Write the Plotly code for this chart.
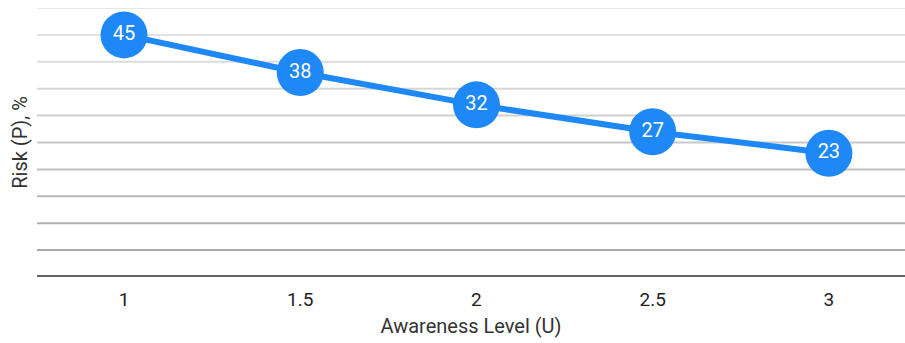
import plotly.graph_objects as go

# Awareness level (U) vs. risk (P, %)
awareness = [1, 1.5, 2, 2.5, 3]
risk = [45, 38, 32, 27, 23]
x_ticks = [1, 1.5, 2, 2.5, 3]
x_tick_labels = ["1", "1.5", "2", "2.5", "3"]
grid_values = [5, 10, 15, 20, 25, 30, 35, 40, 45, 50]

BLUE = "#1e88f7"
FONT = "Roboto, Arial, sans-serif"

# grid lines fade from light (top) to darker gray (bottom)
grid_colors = {
    50: "#e6e6e6", 45: "#e2e2e2", 40: "#dddddd", 35: "#d7d7d7", 30: "#d0d0d0",
    25: "#c8c8c8", 20: "#c0c0c0", 15: "#b8b8b8", 10: "#b0b0b0", 5: "#a8a8a8",
}

fig = go.Figure()

fig.add_trace(go.Scatter(
    x=awareness,
    y=risk,
    mode="lines+markers+text",
    line=dict(color=BLUE, width=6),
    marker=dict(size=47, color=BLUE, line=dict(width=0)),
    text=[str(v) for v in risk],
    textposition="middle center",
    textfont=dict(family=FONT, size=20, color="white"),
    cliponaxis=False,
    hoverinfo="x+y",
))

shapes = []
for v in grid_values:
    shapes.append(dict(
        type="line", xref="paper", yref="y", x0=0, x1=1, y0=v, y1=v,
        line=dict(color=grid_colors[v], width=2), layer="below",
    ))
# baseline
shapes.append(dict(
    type="line", xref="paper", yref="y", x0=0, x1=1, y0=0, y1=0,
    line=dict(color="#646464", width=4), layer="above",
))

fig.update_layout(
    width=905,
    height=343,
    margin=dict(l=37, r=0, t=8, b=66),
    paper_bgcolor="white",
    plot_bgcolor="white",
    showlegend=False,
    shapes=shapes,
    font=dict(family=FONT, color="#333333"),
    xaxis=dict(
        range=[0.753, 3.216],
        tickvals=x_ticks,
        ticktext=x_tick_labels,
        showgrid=False,
        zeroline=False,
        showline=False,
        ticks="outside",
        ticklen=5,
        tickcolor="rgba(0,0,0,0)",
        tickfont=dict(size=19, color="#222222"),
        title=dict(text="Awareness Level (U)", font=dict(size=20, color="#333333"), standoff=9),
    ),
    yaxis=dict(
        range=[0, 50],
        showgrid=False,
        zeroline=False,
        showline=False,
        showticklabels=False,
        ticks="",
        title=dict(text="Risk (P), %", font=dict(size=20, color="#333333"), standoff=3),
    ),
)

fig.write_html("out.html")
